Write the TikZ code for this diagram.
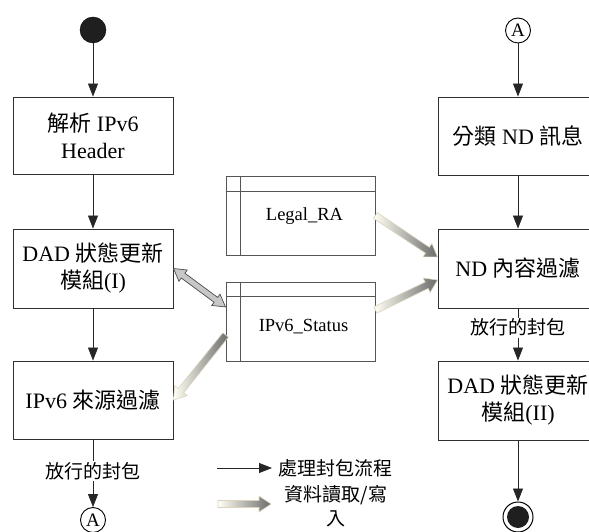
\documentclass[tikz,border=0pt]{standalone}
\usepackage{fontspec}
\setmainfont{Liberation Serif}
\newfontfamily\cjk{Noto Sans CJK TC}
\usetikzlibrary{arrows.meta,calc}
\newcommand\zh[1]{{\cjk #1}}

\makeatletter
% fat shaded arrow from coordinate #2 to coordinate #3
\newcommand\rwarrow[3][]{%
  \pgfmathanglebetweenpoints{\pgfpointanchor{#2}{center}}{\pgfpointanchor{#3}{center}}%
  \let\rw@ang\pgfmathresult
  \pgfpointdiff{\pgfpointanchor{#2}{center}}{\pgfpointanchor{#3}{center}}%
  \edef\rw@dx{\the\pgf@x}\edef\rw@dy{\the\pgf@y}%
  \pgfmathsetmacro\rw@len{veclen(\rw@dx,\rw@dy)}%
  \begin{scope}[shift={(#2)}, rotate=\rw@ang]
    \shade[rwfat,#1] (0,-3.5) -- (\rw@len-12,-3.5) -- (\rw@len-12,-8) -- (\rw@len,0)
      -- (\rw@len-12,8) -- (\rw@len-12,3.5) -- (0,3.5) -- cycle;
  \end{scope}}
% double-headed fat arrow between coordinates #1 and #2
\newcommand\dblarrow[2]{%
  \pgfmathanglebetweenpoints{\pgfpointanchor{#1}{center}}{\pgfpointanchor{#2}{center}}%
  \let\rw@ang\pgfmathresult
  \pgfpointdiff{\pgfpointanchor{#1}{center}}{\pgfpointanchor{#2}{center}}%
  \edef\rw@dx{\the\pgf@x}\edef\rw@dy{\the\pgf@y}%
  \pgfmathsetmacro\rw@len{veclen(\rw@dx,\rw@dy)}%
  \begin{scope}[shift={(#1)}, rotate=\rw@ang]
    \filldraw[dblfat] (0,0) -- (12,-7) -- (12,-3) -- (\rw@len-12,-3) -- (\rw@len-12,-7)
      -- (\rw@len,0) -- (\rw@len-12,7) -- (\rw@len-12,3) -- (12,3) -- (12,7) -- cycle;
  \end{scope}}
\makeatother

\definecolor{boxline}{HTML}{303030}
\definecolor{tabline}{HTML}{555555}
\definecolor{fatedge}{HTML}{DCD4BC}

\begin{document}
\begin{tikzpicture}[x=1pt,y=-1pt,
  box/.style={draw=boxline, line width=0.9pt, minimum width=160pt, align=center,
    font=\fontsize{22}{27}\selectfont, inner sep=0pt},
  tablebox/.style={draw=tabline, line width=0.8pt, minimum width=149pt, minimum height=79pt, inner sep=0pt},
  tabline/.style={draw=tabline, line width=0.7pt},
  tabtext/.style={font=\fontsize{18.5}{22}\selectfont},
  flow/.style={-{Triangle[length=13pt,width=10pt]}, line width=0.8pt, draw=black!85},
  lbl/.style={fill=white, inner sep=1pt, font=\fontsize{19}{22}\selectfont},
  conn/.style={draw=black, line width=0.9pt, circle, minimum size=25pt, inner sep=0pt,
    font=\fontsize{19}{22}\selectfont},
  rwfat/.style={draw=fatedge, line width=0.6pt, left color=white!96!yellow, right color=black!58},
  dblfat/.style={draw=black!70, line width=0.7pt, fill=black!22},
]
\clip (0,0) rectangle (589,532);

% left column
\node[circle, fill=black!88, draw=black, minimum size=26pt, inner sep=0pt] (start) at (93,30) {};
\node[box, minimum height=77pt] (parse) at (93,135.5) {\zh{解析} IPv6\\Header};
\node[box, minimum height=79pt] (dad1) at (93,268.5) {DAD \zh{狀態更新}\\\zh{模組}(I)};
\node[box, minimum height=78pt] (src) at (93,400) {IPv6 \zh{來源過濾}};
\node[conn] (a1) at (93,520) {A};

\draw[flow] (start) -- (parse);
\draw[flow] (parse) -- (dad1);
\draw[flow] (dad1) -- (src);
\draw[flow] (src) -- node[lbl, pos=0.47] (pass1) {\zh{放行的封包}} (a1);

% data tables
\node[tablebox] (legal) at (300.5,215.5) {};
\draw[tabline] ($(legal.north west)+(0,16)$) -- ($(legal.north east)+(0,16)$);
\draw[tabline] ($(legal.north west)+(15,0)$) -- ($(legal.south west)+(15,0)$);
\node[tabtext] (legaltxt) at ($(legal.center)+(4,0.5)$) {Legal\_RA};

\node[tablebox] (status) at (300.5,321.5) {};
\draw[tabline] ($(status.north west)+(0,15)$) -- ($(status.north east)+(0,15)$);
\draw[tabline] ($(status.north west)+(15,0)$) -- ($(status.south west)+(15,0)$);
\node[tabtext] (statustxt) at ($(status.center)+(3,5.5)$) {IPv6\_Status};

% right column
\node[conn] (a2) at (518,30.5) {A};
\node[box, minimum height=78pt] (classify) at (518,136) {\zh{分類} ND \zh{訊息}};
\node[box, minimum height=79pt] (ndf) at (518,268.5) {ND \zh{內容過濾}};
\node[box, minimum height=79pt] (dad2) at (518,400.5) {DAD \zh{狀態更新}\\\zh{模組}(II)};
\node[circle, draw=black, line width=1pt, minimum size=30pt, inner sep=0pt] (end) at (518,517) {};
\node[circle, fill=black!88, minimum size=22pt, inner sep=0pt] (endin) at (end.center) {};

\draw[flow] (a2) -- (classify);
\draw[flow] (classify) -- (ndf);
\draw[flow] (ndf) -- node[lbl, pos=0.37] (pass2) {\zh{放行的封包}} (dad2);
\draw[flow] (dad2) -- (end);

% data read / write arrows
\coordinate (r1a) at (legal.east);
\coordinate (r1b) at ($(ndf.west)+(0,-11.5)$);
\coordinate (r2a) at ($(status.east)+(0,-11.5)$);
\coordinate (r2b) at ($(ndf.west)+(0,11.5)$);
\coordinate (r3a) at ($(status.west)+(0,13.5)$);
\coordinate (r3b) at (src.east);
\coordinate (d1) at (dad1.east);
\coordinate (d2) at ($(status.west)+(0,-14.5)$);
\rwarrow{r1a}{r1b}
\rwarrow{r2a}{r2b}
\rwarrow{r3a}{r3b}
\dblarrow{d1}{d2}

% legend
\coordinate (lg1a) at (217,468);
\coordinate (lg1b) at (272,468);
\draw[flow] (lg1a) -- (lg1b);
\node[font=\fontsize{19}{22}\selectfont, anchor=west, inner sep=0pt] (lgt1) at (278,468) {\zh{處理封包流程}};
\coordinate (lg2a) at (218,504);
\coordinate (lg2b) at (271,504);
\rwarrow{lg2a}{lg2b}
\node[font=\fontsize{19}{24}\selectfont, align=center, inner sep=0pt] (lgt2) at (336,506) {\zh{資料讀取/寫}\\\zh{入}};
\end{tikzpicture}
\end{document}
